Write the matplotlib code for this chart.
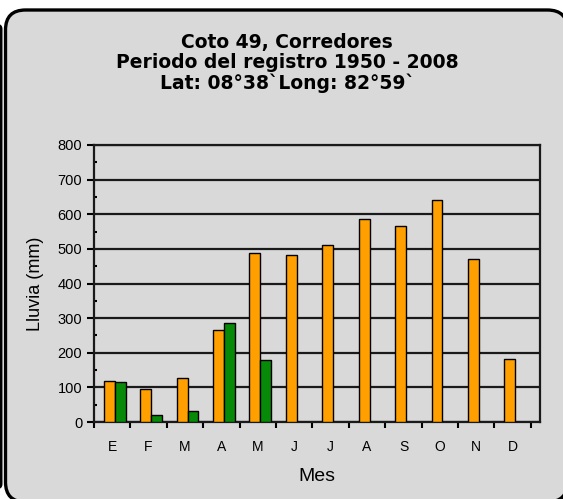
import numpy as np
import matplotlib.pyplot as plt
from matplotlib.patches import FancyBboxPatch

# Datos
meses = ["E", "F", "M", "A", "M", "J", "J", "A", "S", "O", "N", "D"]
lluvia_naranja = [117, 95, 128, 265, 488, 482, 510, 587, 565, 640, 472, 182]
lluvia_verde = [115, 20, 32, 287, 180, 0, 0, 0, 0, 0, 0, 0]

titulo = "Coto 49, Corredores\nPeriodo del registro 1950 - 2008\nLat: 08°38`Long: 82°59`"

fig = plt.figure(figsize=(5.63, 4.99), dpi=100)

# Fondo redondeado (coordenadas en pulgadas, 100 px por pulgada)
caja = FancyBboxPatch((0.055, -0.03), 5.62, 4.92,
                      boxstyle="round,pad=0,rounding_size=0.2",
                      transform=fig.dpi_scale_trans, facecolor="#d9d9d9",
                      edgecolor="black", linewidth=2.4, zorder=-5)
fig.patches.append(caja)
# franja negra del borde izquierdo
franja = FancyBboxPatch((-0.1, 0.1), 0.125, 4.65,
                        boxstyle="round,pad=0,rounding_size=0.05",
                        transform=fig.dpi_scale_trans, facecolor="black",
                        edgecolor="none", zorder=-6)
fig.patches.append(franja)

ax = fig.add_axes([94 / 563, 77 / 499, 446 / 563, 277 / 499])
ax.set_zorder(2)
ax.set_facecolor("#d9d9d9")

x = np.arange(len(meses))
ancho = 0.3
ax.bar(x - 0.08, lluvia_naranja, ancho, color="#ff9f00", edgecolor="black",
       linewidth=1, zorder=3)
verde = np.array(lluvia_verde)
idx = verde > 0
ax.bar(x[idx] + 0.22, verde[idx], ancho, color="#078a07", edgecolor="black",
       linewidth=1, zorder=3)

ax.set_xlim(-0.5, 11.75)
ax.set_ylim(0, 800)
ax.set_yticks(range(0, 801, 100))
ax.set_yticks(range(50, 800, 100), minor=True)
ax.yaxis.grid(True, color="#1a1a1a", linewidth=1.6, zorder=1)
ax.set_axisbelow(True)

ax.set_xticks(x)
ax.set_xticklabels(meses, fontsize=10, family="Liberation Sans")
ax.set_xticks(np.arange(-0.5, 12, 1), minor=True)
ax.tick_params(axis="x", which="major", length=0, pad=13)
ax.tick_params(axis="x", which="minor", length=4, width=1.5, direction="out")
ax.tick_params(axis="y", which="major", length=5, width=1.5, labelsize=10.5)
ax.tick_params(axis="y", which="minor", length=2, width=1.5, direction="in")
for lab in ax.get_yticklabels():
    lab.set_family("Liberation Sans")

for s in ax.spines.values():
    s.set_linewidth(1.6)
    s.set_color("#1a1a1a")

ax.set_ylabel("Lluvia (mm)", fontsize=13, family="Liberation Sans", labelpad=10)
ax.set_xlabel("Mes", fontsize=14, family="Liberation Sans", labelpad=10)

fig.text(287 / 563, 1 - 63 / 499, titulo, ha="center", va="center",
         fontsize=13.5, fontweight="bold", family="DejaVu Sans", linespacing=1.1)

plt.savefig("out.png", dpi=100, facecolor="white")
